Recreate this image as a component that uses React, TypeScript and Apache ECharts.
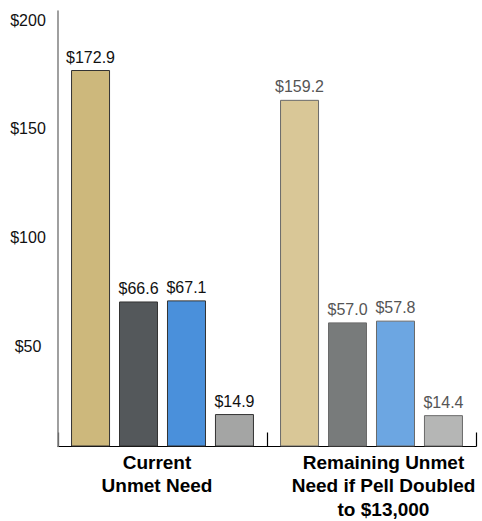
import React, { useEffect, useRef } from "react";
import * as echarts from "echarts";

const categories = ["Current\nUnmet Need", "Remaining Unmet\nNeed if Pell Doubled\nto $13,000"];
const seriesA = [172.9, 159.2];
const seriesB = [66.6, 57.0];
const seriesC = [67.1, 57.8];
const seriesD = [14.9, 14.4];
const yTicks = [0, 50, 100, 150, 200];

const colorsA = ["#CDB87C", "#D9C797"];
const colorsB = ["#54585B", "#787B7B"];
const colorsC = ["#4A90DB", "#6CA6E2"];
const colorsD = ["#A4A5A4", "#B5B6B5"];
const borderColors = ["#333333", "#6a6a6a"];
const labelColors = ["#111111", "#555555"];

const FONT = "'Liberation Sans', Arial, Helvetica, sans-serif";

function makeSeries(name: string, values: number[], colors: string[]) {
  return {
    name,
    type: "bar",
    barWidth: 39,
    barGap: "23%",
    data: values.map((v, i) => ({
      value: v,
      itemStyle: { color: colors[i], borderColor: borderColors[i], borderWidth: 1 },
      label: { color: labelColors[i] },
    })),
    label: {
      show: true,
      position: "top",
      distance: 5,
      fontSize: 16,
      fontFamily: FONT,
      formatter: (p: any) => "$" + Number(p.value).toFixed(1),
    },
  };
}

export default function App() {
  const ref = useRef<HTMLDivElement>(null);
  useEffect(() => {
    if (!ref.current) return;
    const chart = echarts.init(ref.current, undefined, { renderer: "svg" });
    chart.setOption({
      animation: false,
      grid: { left: 58, right: 6, top: 11, bottom: 72, containLabel: false },
      xAxis: {
        type: "category",
        z: 1,
        data: [
          { value: categories[0], textStyle: { padding: [0, 11, 0, 0] } },
          { value: categories[1], textStyle: { padding: [0, 0, 0, 24] } },
        ],
        axisLine: { show: true, lineStyle: { color: "#000", width: 1.2 } },
        axisTick: { show: true, inside: true, length: 14, lineStyle: { color: "#000", width: 1.2 } },
        axisLabel: {
          interval: 0,
          margin: 4,
          fontSize: 19,
          fontWeight: "bold",
          lineHeight: 23.5,
          color: "#000",
          fontFamily: FONT,
        },
      },
      yAxis: {
        type: "value",
        z: 3,
        min: yTicks[0],
        max: yTicks[yTicks.length - 1],
        interval: 50,
        splitLine: { show: false },
        axisTick: { show: false },
        axisLine: { show: true, lineStyle: { color: "#888", width: 1.6 } },
        axisLabel: {
          margin: 30,
          align: "center",
          verticalAlign: "top",
          padding: [1, 0, 0, 0],
          fontSize: 16,
          color: "#111",
          fontFamily: FONT,
          formatter: (v: number) => (v === 0 ? "" : "$" + v),
        },
      },
      series: [
        makeSeries("A", seriesA, colorsA),
        makeSeries("B", seriesB, colorsB),
        makeSeries("C", seriesC, colorsC),
        makeSeries("D", seriesD, colorsD),
      ],
    });
    return () => chart.dispose();
  }, []);
  return <div ref={ref} style={{ width: 482, height: 521, position: "absolute", left: 0, top: 0 }} />;
}
